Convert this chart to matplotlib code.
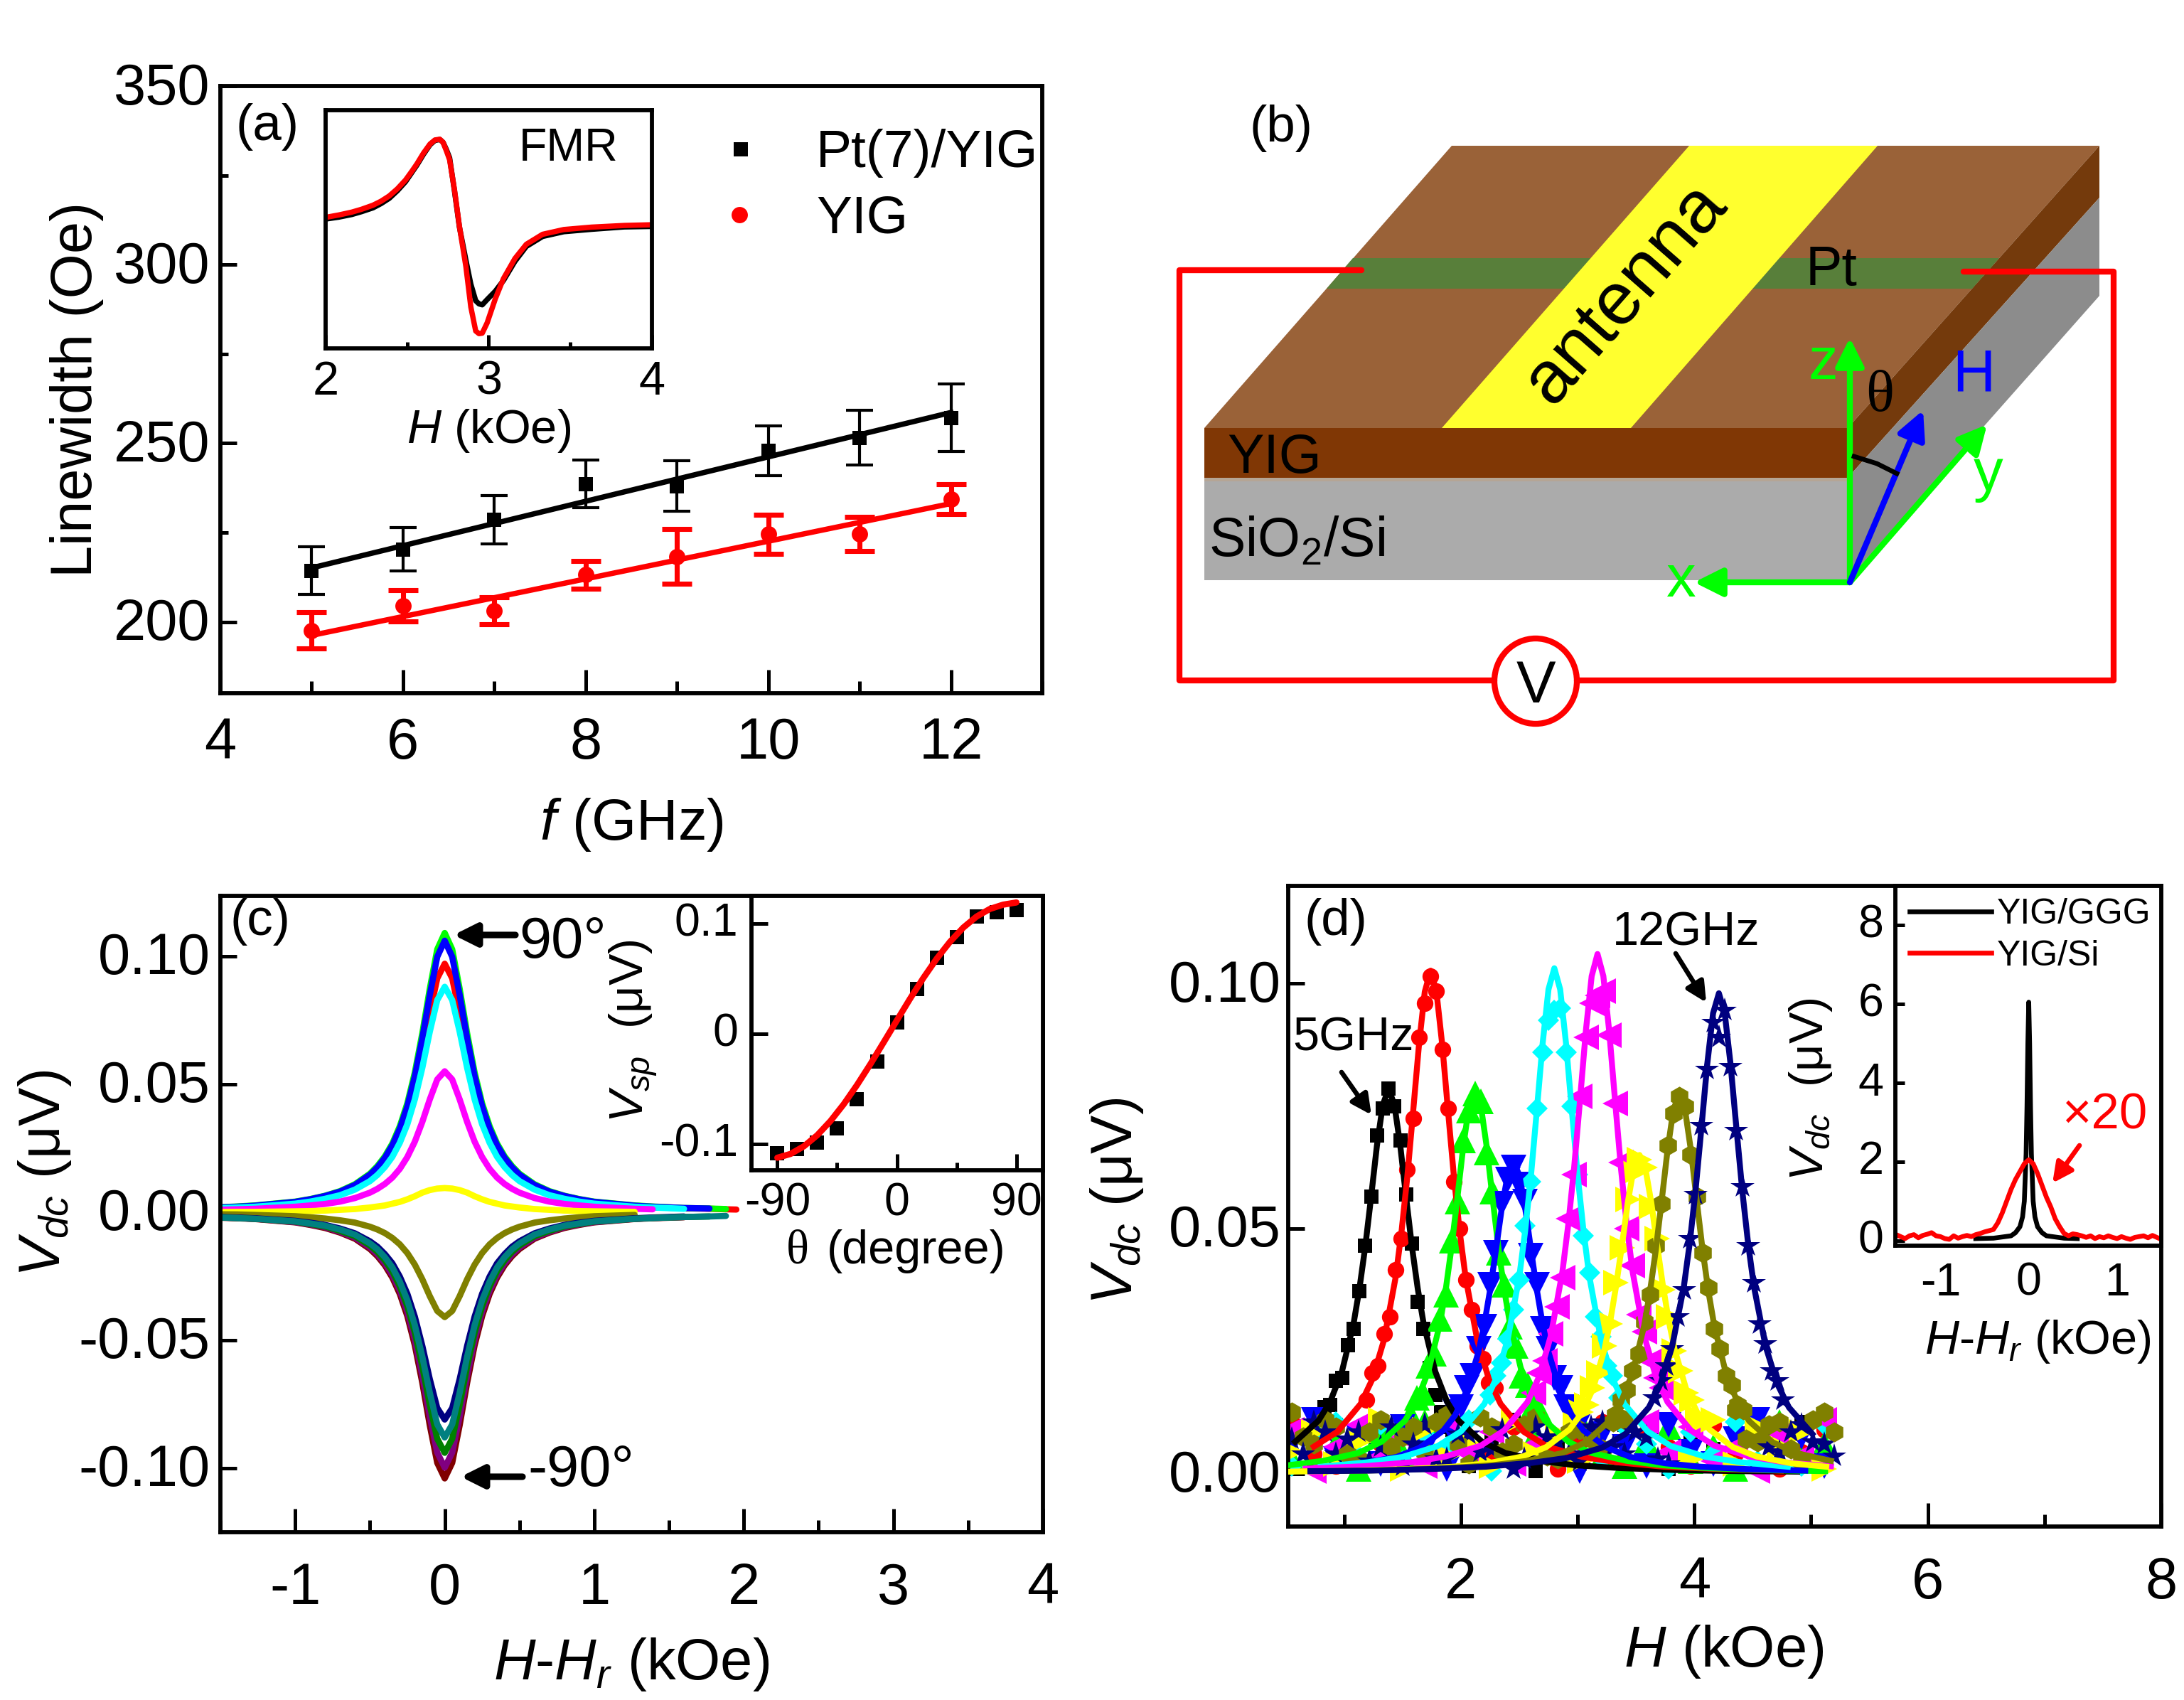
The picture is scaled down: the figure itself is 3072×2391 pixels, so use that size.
import numpy as np
import matplotlib
matplotlib.use("Agg")
import matplotlib.pyplot as plt
from matplotlib.patches import Polygon, Rectangle, Ellipse, FancyArrowPatch
from matplotlib.ticker import MultipleLocator, FormatStrFormatter, FuncFormatter
from matplotlib.transforms import ScaledTranslation

plt.rcParams['font.family'] = ['Liberation Sans', 'DejaVu Sans']
plt.rcParams['mathtext.fontset'] = 'custom'
plt.rcParams['mathtext.rm'] = 'Liberation Sans'
plt.rcParams['mathtext.it'] = 'Liberation Sans:italic'
plt.rcParams['mathtext.default'] = 'regular'
plt.rcParams['axes.unicode_minus'] = False

W, H = 3072, 2391

# panel a
a_freq = [5, 6, 7, 8, 9, 10, 11, 12]
a_pt = [214.3, 220.3, 228.6, 238.6, 238.0, 247.9, 251.5, 257.1]
a_pt_err = [6.7, 6.1, 6.75, 6.7, 7.0, 6.9, 7.7, 9.5]
a_yig = [197.6, 204.5, 203.1, 213.2, 218.3, 224.5, 224.6, 234.3]
a_yig_err = [5.1, 4.3, 3.7, 3.9, 7.7, 5.4, 4.7, 4.2]
a_fit_f = [5, 12]
a_fit_pt = [215.1, 258.6]
a_fit_yig = [196.2, 233.1]

# panel a inset (FMR)
fmr_h = [2.00, 2.08, 2.16, 2.22, 2.29, 2.34, 2.39, 2.44, 2.49, 2.53, 2.56, 2.60, 2.64, 2.67, 2.70, 2.72, 2.74, 2.76, 2.79, 2.82, 2.86,
         2.89, 2.92, 2.94, 2.96, 2.99, 3.04, 3.09, 3.16, 3.23, 3.33, 3.46, 3.63, 3.83, 4.00]
fmr_pt = [.543, .551, .562, .574, .590, .608, .630, .662, .700, .740, .770, .815, .855, .873, .877, .865, .835, .800, .660, .510, .370,
          .270, .200, .187, .183, .205, .240, .285, .365, .428, .470, .490, .500, .510, .512]
fmr_yig = [.550, .560, .572, .584, .601, .618, .640, .670, .707, .745, .775, .820, .858, .875, .878, .865, .830, .792, .665, .513, .343,
           .174, .073, .062, .064, .107, .208, .293, .377, .437, .479, .499, .509, .516, .519]

# panel c, half curves against |H-Hr|
c_off = [0, .05, .1, .15, .2, .25, .3, .35, .4, .45, .5, .6, .7, .8, .9, 1.0, 1.27, 1.39, 1.6, 1.77, 1.88, 1.95]
c_red = [.097, .0913, .0776, .0621, .0485, .0378, .0299, .0239, .0194, .0160, .0134, .0097, .0073, .0057, .0046, .0037, .0023, .0019, .0015, .0013, .0011, .0010]
c_green = [.109, .1026, .0872, .0698, .0545, .0425, .0336, .0268, .0218, .0180, .0150, .0109, .0082, .0064, .0051, .0041, .0026, .0022, .0016, .0014, .0012, .0011]
c_blue = [.106, .0997, .0848, .0678, .0530, .0413, .0326, .0261, .0212, .0175, .0146, .0106, .0080, .0063, .0050, .0040, .0025, .0021, .0016, .0014, .0012, .0011]
c_cyan = [.088, .0828, .0704, .0563, .0440, .0343, .0271, .0216, .0176, .0145, .0121, .0088, .0066, .0052, .0041, .0033, .0021, .0018, .0013, .0011, .0010, .0009]
c_magenta = [.055, .0518, .0440, .0352, .0275, .0215, .0169, .0135, .0110, .0091, .0076, .0055, .0041, .0032, .0026, .0021, .0013, .0011, .0008, .0007, .0006, .0005]
c_yellow = [.0094, .0092, .0086, .0076, .0062, .0050, .0040, .0033, .0026, .0022, .0018, .0012, .0009, .0006, .0004, .0003, .0001, .0001, 0, 0, 0, 0]
c_olive = [-.041, -.0386, -.0328, -.0262, -.0205, -.0160, -.0126, -.0101, -.0082, -.0068, -.0057, -.0041, -.0032, -.0025, -.0020, -.0016, -.0011, -.0009, -.0008, -.0007, -.0006, -.0006]
c_navy = [-.081, -.0765, -.0652, -.0522, -.0408, -.0319, -.0252, -.0200, -.0164, -.0135, -.0114, -.0083, -.0064, -.0050, -.0041, -.0034, -.0024, -.0021, -.0017, -.0015, -.0013, -.0012]
c_maroon = [-.104, -.0979, -.0832, -.0666, -.0520, -.0406, -.0320, -.0256, -.0208, -.0172, -.0144, -.0104, -.0080, -.0062, -.0050, -.0040, -.0027, -.0024, -.0020, -.0017, -.0015, -.0014]
c_purple = [-.0998, -.0939, -.0798, -.0639, -.0499, -.0389, -.0307, -.0246, -.0200, -.0165, -.0138, -.0100, -.0077, -.0059, -.0048, -.0039, -.0026, -.0023, -.0019, -.0017, -.0015, -.0014]
c_dgreen = [-.094, -.0885, -.0752, -.0602, -.0470, -.0367, -.0290, -.0231, -.0188, -.0155, -.0130, -.0094, -.0073, -.0056, -.0046, -.0037, -.0026, -.0023, -.0019, -.0017, -.0015, -.0014]
c_teal = [-.088, -.0829, -.0705, -.0564, -.0441, -.0344, -.0272, -.0216, -.0176, -.0145, -.0122, -.0088, -.0068, -.0053, -.0044, -.0036, -.0026, -.0023, -.0019, -.0017, -.0015, -.0014]

# panel c inset
cin_theta = [-90, -75, -60, -45, -30, -15, 0, 15, 30, 45, 60, 75, 90]
cin_v = [-.1085, -.1045, -.0990, -.0860, -.0592, -.0256, .0099, .0402, .0690, .0875, .1060, .1100, .1120]
cin_fit_theta = [-90, -80, -70, -60, -50, -40, -30, -20, -10, 0, 10, 20, 30, 40, 50, 60, 70, 80, 90]
cin_fit_v = [-.1126, -.1091, -.1022, -.0922, -.0793, -.0640, -.0466, -.0278, -.0080, .0120, .0318,
             .0506, .0680, .0833, .0962, .1062, .1131, .1170, .1190]

# panel d, fits: half curves against |H-Hr| for each frequency
d_off = [0, .05, .1, .15, .2, .25, .3, .4, .5, .6, .8, 1.0, 1.3, 1.6, 2, 2.5, 3, 3.5, 4]
d_center = [1.38, 1.74, 2.12, 2.45, 2.80, 3.17, 3.53, 3.87, 4.21]
d_fit_black = [.0785, .0752, .0669, .0564, .0463, .0377, .0306, .0208, .0147, .0108, .0065, .0042, .0026, .0017, .0011, .0007, .0005, .0004, .0003]
d_fit_red = [.1026, .0983, .0874, .0738, .0605, .0492, .0400, .0272, .0192, .0142, .0085, .0055, .0034, .0023, .0014, .0009, .0006, .0005, .0004]
d_fit_green = [.0784, .0751, .0668, .0564, .0463, .0376, .0306, .0208, .0147, .0108, .0065, .0042, .0026, .0017, .0011, .0007, .0005, .0004, .0003]
d_fit_blue = [.0636, .0609, .0542, .0457, .0375, .0305, .0248, .0169, .0119, .0088, .0053, .0034, .0021, .0014, .0009, .0006, .0004, .0003, .0002]
d_fit_cyan = [.1031, .0988, .0878, .0741, .0608, .0495, .0402, .0273, .0193, .0142, .0086, .0056, .0034, .0023, .0014, .0009, .0006, .0005, .0004]
d_fit_magenta = [.1060, .1015, .0903, .0762, .0625, .0509, .0413, .0281, .0198, .0146, .0088, .0057, .0035, .0023, .0015, .0010, .0006, .0005, .0004]
d_fit_yellow = [.0650, .0623, .0554, .0467, .0384, .0312, .0254, .0172, .0122, .0090, .0054, .0035, .0021, .0014, .0009, .0006, .0004, .0003, .0002]
d_fit_olive = [.0775, .0742, .0660, .0557, .0457, .0372, .0302, .0205, .0145, .0107, .0064, .0042, .0026, .0017, .0011, .0007, .0005, .0004, .0003]
d_fit_navy = [.0980, .0939, .0835, .0705, .0578, .0470, .0382, .0260, .0183, .0135, .0081, .0053, .0032, .0022, .0014, .0009, .0006, .0005, .0004]

# panel d, points near each peak (H-Hr from -0.55 to 0.55 in 0.05 steps)
d_pk_off = [-.55, -.5, -.45, -.4, -.35, -.3, -.25, -.2, -.15, -.1, -.05, 0, .05, .1, .15, .2, .25, .3, .35, .4, .45, .5, .55]
d_pk_black = [.0135, .0140, .0190, .0195, .0262, .0295, .0372, .0465, .0565, .0690, .0745, .0785, .0750, .0680, .0570, .0470, .0350, .0295, .0215, .0160, .0125, .0120, .0090]
d_pk_red = [.0150, .0205, .0220, .0285, .0320, .0415, .0480, .0620, .0725, .0890, .0960, .1015, .0985, .0865, .0745, .0595, .0500, .0395, .0335, .0260, .0235, .0185, .0175]
d_pk_green = [.0120, .0155, .0165, .0220, .0245, .0315, .0365, .0475, .0555, .0680, .0740, .0775, .0760, .0655, .0575, .0450, .0385, .0300, .0260, .0200, .0180, .0140, .0130]
d_pk_blue = [.0095, .0125, .0135, .0175, .0200, .0255, .0300, .0385, .0450, .0550, .0600, .0625, .0590, .0555, .0445, .0385, .0295, .0255, .0195, .0175, .0135, .0125, .0095]
d_pk_cyan = [.0160, .0200, .0225, .0275, .0335, .0395, .0505, .0595, .0745, .0860, .0925, .0945, .0950, .0860, .0750, .0610, .0485, .0410, .0320, .0280, .0220, .0200, .0155]
d_pk_magenta = [.0165, .0205, .0230, .0285, .0340, .0400, .0520, .0610, .0770, .0890, .0960, .0975, .0985, .0895, .0755, .0635, .0500, .0425, .0325, .0290, .0230, .0195, .0175]
d_pk_yellow = [.0100, .0125, .0140, .0175, .0205, .0260, .0305, .0390, .0460, .0560, .0615, .0640, .0625, .0545, .0480, .0375, .0320, .0250, .0210, .0165, .0150, .0115, .0110]
d_pk_olive = [.0120, .0150, .0170, .0210, .0245, .0310, .0365, .0465, .0550, .0670, .0735, .0770, .0750, .0650, .0565, .0450, .0380, .0295, .0255, .0200, .0180, .0140, .0130]
d_pk_navy = [.0155, .0190, .0220, .0255, .0320, .0375, .0480, .0570, .0710, .0825, .0920, .0890, .0945, .0830, .0700, .0585, .0465, .0390, .0305, .0265, .0210, .0190, .0150]

# panel d, background scatter
d_bg_h = [.55, .74, .93, 1.12, 1.31, 1.5, 1.69, 1.88, 2.07, 2.26, 2.45, 2.64, 2.83, 3.02, 3.21, 3.4, 3.59, 3.78, 3.97, 4.16, 4.35, 4.54, 4.73, 4.92, 5.11]
d_bg_black = [.0080, .0020, .0100, .0045, .0010, .0065, .0030, .0095, .0015, .0070, .0110, .0005, .0055, .0085, .0025, .0100, .0040, .0010, .0075, .0050, .0090, .0020, .0060, .0105, .0035]
d_bg_red = [.0105, .0040, .0015, .0090, .0060, .0110, .0025, .0005, .0075, .0035, .0095, .0050, .0010, .0065, .0105, .0030, .0085, .0055, .0015, .0100, .0040, .0070, .0010, .0045, .0090]
d_bg_green = [.0030, .0095, .0060, .0010, .0085, .0040, .0105, .0070, .0020, .0100, .0005, .0080, .0045, .0110, .0035, .0015, .0065, .0095, .0025, .0055, .0010, .0085, .0105, .0030, .0060]
d_bg_blue = [.0060, .0110, .0030, .0075, .0020, .0095, .0050, .0010, .0090, .0025, .0065, .0105, .0035, .0005, .0080, .0055, .0015, .0100, .0045, .0020, .0070, .0110, .0040, .0075, .0015]
d_bg_cyan = [.0015, .0070, .0105, .0035, .0100, .0025, .0080, .0055, .0110, .0005, .0045, .0090, .0020, .0075, .0030, .0095, .0060, .0010, .0085, .0040, .0105, .0025, .0065, .0015, .0100]
d_bg_magenta = [.0090, .0005, .0055, .0100, .0035, .0075, .0015, .0110, .0040, .0085, .0020, .0060, .0100, .0030, .0070, .0010, .0105, .0045, .0095, .0025, .0055, .0005, .0080, .0035, .0110]
d_bg_yellow = [.0045, .0085, .0020, .0065, .0110, .0010, .0090, .0035, .0060, .0015, .0105, .0040, .0080, .0025, .0100, .0050, .0005, .0075, .0030, .0110, .0020, .0095, .0055, .0085, .0010]
d_bg_olive = [.0125, .0060, .0095, .0030, .0110, .0075, .0045, .0120, .0020, .0095, .0060, .0115, .0030, .0090, .0050, .0110, .0015, .0070, .0115, .0040, .0130, .0065, .0105, .0025, .0125]
d_bg_navy = [.0070, .0105, .0040, .0085, .0055, .0015, .0100, .0030, .0080, .0050, .0010, .0095, .0065, .0025, .0105, .0040, .0075, .0020, .0060, .0090, .0035, .0075, .0045, .0100, .0060]
d_bg2_h = [.645, .835, 1.025, 1.215, 1.405, 1.595, 1.785, 1.975, 2.165, 2.355, 2.545, 2.735, 2.925, 3.115, 3.305, 3.495, 3.685, 3.875, 4.065, 4.255, 4.445, 4.635, 4.825, 5.015, 5.2]
d_bg2_olive = [.0075, .0110, .0040, .0085, .0055, .0095, .0105, .0060, .0115, .0045, .0100, .0035, .0085, .0070, .0105, .0050, .0090, .0040, .0075, .0105, .0070, .0100, .0050, .0110, .0085]
d_bg2_navy = [.0040, .0085, .0070, .0025, .0095, .0060, .0030, .0080, .0045, .0090, .0030, .0075, .0040, .0095, .0055, .0085, .0030, .0100, .0050, .0070, .0100, .0055, .0085, .0065, .0035]

# panel d inset
din_ggg_h = [-.6, -.4, -.2, -.15, -.1, -.07, -.05, -.03, -.02, -.01, 0, .01, .02, .03, .05, .07, .1, .15, .2, .4, .55]
din_ggg_v = [.05, .06, .12, .2, .35, .6, 1.0, 2.2, 3.4, 5.0, 6.05, 5.0, 3.4, 2.2, 1.0, .6, .35, .2, .12, .06, .05]
din_si_h = [-1.5, -1.45, -1.4, -1.35, -1.3, -1.25, -1.2, -1.15, -1.1, -1.05, -1, -.95, -.9, -.85, -.8, -.75, -.7, -.65, -.6, -.55, -.5,
            -.45, -.4, -.35, -.3, -.25, -.2, -.15, -.1, -.05, 0, .05, .1, .15, .2, .25, .3, .35, .4, .45, .5,
            .55, .6, .65, .7, .75, .8, .85, .9, .95, 1, 1.05, 1.1, 1.15, 1.2, 1.25, 1.3, 1.35, 1.4, 1.45, 1.5]
din_si_v = [.15, .1, .05, .12, .15, .07, .13, .16, .2, .12, .1, .05, .03, .12, .06, .1, .13, .1, .15, .18, .22,
            .25, .28, .45, .7, 1.0, 1.3, 1.55, 1.75, 1.95, 2.05, 1.95, 1.7, 1.4, 1.1, .85, .55, .35, .18, .12, .17,
            .15, .12, .08, .12, .05, .1, .07, .12, .08, .05, .1, .06, .03, .08, .1, .12, .07, .13, .08, .03]


def px_axes(l, t, r, b):
    return fig.add_axes([l / W, 1 - b / H, (r - l) / W, (b - t) / H])


def style(ax, xmaj, ymaj, xmin=None, ymin=None, xlen=8, ylen=5.5, fs=19.5, xpad=8, ypad=3.5):
    for s in ax.spines.values():
        s.set_linewidth(1.4)
    ax.xaxis.set_major_locator(MultipleLocator(xmaj))
    ax.yaxis.set_major_locator(MultipleLocator(ymaj))
    if xmin:
        ax.xaxis.set_minor_locator(MultipleLocator(xmin))
    if ymin:
        ax.yaxis.set_minor_locator(MultipleLocator(ymin))
    ax.tick_params(axis='x', which='major', direction='in', length=xlen, width=1.2, labelsize=fs, pad=xpad)
    ax.tick_params(axis='y', which='major', direction='in', length=ylen, width=1.2, labelsize=fs, pad=ypad)
    ax.tick_params(axis='x', which='minor', direction='in', length=xlen / 2, width=1.2)
    ax.tick_params(axis='y', which='minor', direction='in', length=ylen / 2, width=1.2)


def nudge_ylabels(ax, px=4):
    # y tick labels sit a few pixels higher in the original
    for lab in ax.get_yticklabels():
        lab.set_transform(lab.get_transform() + ScaledTranslation(0, px / 300, fig.dpi_scale_trans))


fig = plt.figure(figsize=(W / 300, H / 300), dpi=300)

# ---- (a)
ax_a = px_axes(310, 121, 1466, 975)
ax_a.set_xlim(4, 13)
ax_a.set_ylim(180, 350)
style(ax_a, 2, 50, 1, 25)
ax_a.errorbar(a_freq, a_pt, yerr=a_pt_err, fmt='none', ecolor='k', elinewidth=1, capsize=4.6, capthick=1)
ax_a.errorbar(a_freq, a_yig, yerr=a_yig_err, fmt='none', ecolor='#ff0000', elinewidth=1.7, capsize=5, capthick=1.7)
ax_a.plot(a_fit_f, a_fit_pt, color='k', lw=1.8)
ax_a.plot(a_fit_f, a_fit_yig, color='#ff0000', lw=1.8)
ax_a.plot(a_freq, a_pt, 's', color='k', ms=5, mew=0)
ax_a.plot(a_freq, a_yig, 'o', color='#ff0000', ms=5.5, mew=0)
nudge_ylabels(ax_a)

ax_ai = px_axes(458, 155, 917, 490)
ax_ai.set_xlim(2, 4)
ax_ai.set_ylim(0, 1)
style(ax_ai, 1, 1, .5, None, xlen=4.5, fs=16, xpad=4)
ax_ai.set_yticks([])
ax_ai.plot(fmr_h, fmr_pt, color='k', lw=1.8)
ax_ai.plot(fmr_h, fmr_yig, color='#ff0000', lw=1.8)

# ---- (c)
ax_c = px_axes(310, 1260, 1467, 2155)
ax_c.set_xlim(-1.5, 4)
ax_c.set_ylim(-.125, .1235)
style(ax_c, 1, .05, .5, None, xpad=10)
ax_c.yaxis.set_major_formatter(FormatStrFormatter('%.2f'))
nudge_ylabels(ax_c)
c_off_arr = np.array(c_off)
c_curves = [(c_red, '#ff0000', 1.95), (c_green, '#00ff00', 1.88), (c_blue, '#0000ff', 1.77),
            (c_cyan, '#00ffff', 1.6), (c_magenta, '#ff00ff', 1.39), (c_yellow, '#ffff00', 1.27),
            (c_olive, '#808000', 1.27), (c_navy, '#000080', 1.6), (c_maroon, '#800000', 1.6),
            (c_purple, '#800080', 1.6), (c_dgreen, '#008000', 1.77), (c_teal, '#008080', 1.88)]
for vals, col, end in c_curves:
    vals = np.array(vals)
    keep = c_off_arr <= end
    xs = np.concatenate([-c_off_arr[::-1], c_off_arr[keep][1:]])
    ys = np.concatenate([vals[::-1], vals[keep][1:]])
    ax_c.plot(xs, ys, color=col, lw=2.1, solid_capstyle='round', solid_joinstyle='round')

ax_ci = px_axes(1057, 1260, 1467, 1646)
ax_ci.set_xlim(-109.5, 110)
ax_ci.set_ylim(-.124, .125)
style(ax_ci, 90, .1, 45, None, xlen=5.5, ylen=5.5, fs=15.5, xpad=4, ypad=4.5)
ax_ci.yaxis.set_major_formatter(FuncFormatter(lambda v, p: '0' if abs(v) < 1e-9 else '%.1f' % v))
nudge_ylabels(ax_ci, 6)
ax_ci.plot(cin_theta, cin_v, 's', color='k', ms=5, mew=0)
ax_ci.plot(cin_fit_theta, cin_fit_v, color='#ff0000', lw=2.1, solid_capstyle='round')

# ---- (d)
ax_d = px_axes(1812, 1246, 3040, 2147)
ax_d.set_xlim(.52, 8)
ax_d.set_ylim(-.0108, .1199)
style(ax_d, 2, .05, 1, None, xpad=10, ypad=2.5)
ax_d.yaxis.set_major_formatter(FormatStrFormatter('%.2f'))
nudge_ylabels(ax_d)
d_series = [('#000000', 's', 4.8, d_fit_black, d_pk_black, d_bg_black),
            ('#ff0000', 'o', 5.6, d_fit_red, d_pk_red, d_bg_red),
            ('#00ff00', '^', 8.8, d_fit_green, d_pk_green, d_bg_green),
            ('#0000ff', 'v', 8.8, d_fit_blue, d_pk_blue, d_bg_blue),
            ('#00ffff', 'D', 5, d_fit_cyan, d_pk_cyan, d_bg_cyan),
            ('#ff00ff', '<', 8.6, d_fit_magenta, d_pk_magenta, d_bg_magenta),
            ('#ffff00', '>', 8.6, d_fit_yellow, d_pk_yellow, d_bg_yellow),
            ('#808000', 'h', 6.8, d_fit_olive, d_pk_olive, d_bg_olive),
            ('#000080', '*', 8.5, d_fit_navy, d_pk_navy, d_bg_navy)]
d_off_arr = np.array(d_off)
d_bg_arr = np.array(d_bg_h)
d_bg2_arr = np.array(d_bg2_h)
for (col, mark, ms, fit, pk, bg), cen in zip(d_series, d_center):
    bg = np.array(bg)
    far = np.abs(d_bg_arr - cen) > .4
    ax_d.plot(d_bg_arr[far], bg[far], ls='none', marker=mark, ms=ms, color=col, mew=0, zorder=2)
    ax_d.plot(np.array(d_pk_off) + cen, pk, ls='none', marker=mark, ms=ms, color=col, mew=0, zorder=2)
# second pass of olive and navy points, they cover most of the band
far = np.abs(d_bg2_arr - d_center[7]) > .4
ax_d.plot(d_bg2_arr[far], np.array(d_bg2_olive)[far], ls='none', marker='h', ms=6.8, color='#808000', mew=0, zorder=2)
far = np.abs(d_bg2_arr - d_center[8]) > .4
ax_d.plot(d_bg2_arr[far], np.array(d_bg2_navy)[far], ls='none', marker='*', ms=8.5, color='#000080', mew=0, zorder=2)
for (col, mark, ms, fit, pk, bg), cen in zip(d_series, d_center):
    fit = np.array(fit)
    xs = np.concatenate([cen - d_off_arr[::-1], cen + d_off_arr[1:]])
    ys = np.concatenate([fit[::-1], fit[1:]])
    keep = (xs >= .52) & (xs <= 5.2)
    ax_d.plot(xs[keep], ys[keep], color=col, lw=2, zorder=3)

ax_di = px_axes(2666, 1246, 3040, 1752)
ax_di.set_xlim(-1.51, 1.5)
ax_di.set_ylim(-.13, 9)
style(ax_di, 1, 2, None, None, xlen=0, ylen=3.2, fs=15.5, xpad=5.5, ypad=4)
nudge_ylabels(ax_di, 6)
ax_di.plot(din_ggg_h, din_ggg_v, color='k', lw=1.6, label='YIG/GGG')
ax_di.plot(din_si_h, din_si_v, color='#ff0000', lw=1.6, label='YIG/Si')
ax_di.legend(loc='upper left', bbox_to_anchor=(0, 1.005), frameon=False, fontsize=12, handlelength=2.3,
             handletextpad=.15, labelspacing=.25, borderaxespad=.2, borderpad=.2)

# ---- overlay in figure pixels: schematic (b) and all free text
ov = fig.add_axes([0, 0, 1, 1], zorder=10)
ov.set_xlim(0, W)
ov.set_ylim(H, 0)
ov.axis('off')
ov.patch.set_alpha(0)

# slab
ov.add_patch(Polygon([(1694, 602), (2042, 205), (2953, 205), (2599, 602)], fc='#9a6238', ec='none'))
ov.add_patch(Polygon([(2599, 602), (2953, 205), (2953, 278), (2599, 672)], fc='#743a0c', ec='none'))
ov.add_patch(Polygon([(2599, 672), (2953, 278), (2953, 416), (2599, 816)], fc='#8c8c8c', ec='none'))
ov.add_patch(Rectangle((1694, 602), 905, 70, fc='#803705', ec='none'))
ov.add_patch(Rectangle((1694, 672), 905, 144, fc='#ababab', ec='none'))
ov.add_patch(Rectangle((1694, 672), 905, 5, fc='#b5a595', ec='none'))
ov.add_patch(Polygon([(1903, 363), (2812, 363), (2774, 406), (1866, 406)], fc='#587f3a', ec='none'))
ov.add_patch(Polygon([(2028, 602), (2376, 205), (2641, 205), (2294, 602)], fc='#ffff2e', ec='none'))

# circuit
red = '#ff0000'
ov.plot([1915, 1659, 1659, 2102], [380, 380, 957, 957], color=red, lw=2, solid_capstyle='round')
ov.plot([2762, 2973, 2973, 2218], [382, 382, 957, 957], color=red, lw=2, solid_capstyle='round')
ov.add_patch(Ellipse((2160, 958), 116, 120, fc='white', ec=red, lw=2))


def arrow(p0, p1, col, lw=2, ms=20):
    ov.add_patch(FancyArrowPatch(p0, p1, arrowstyle='-|>', mutation_scale=ms, color=col, lw=lw,
                                 shrinkA=0, shrinkB=0))


green = '#00ff00'
arrow((2602, 819), (2602, 475), green)
arrow((2602, 819), (2383, 819), green)
arrow((2602, 819), (2795, 597), green)
arrow((2602, 819), (2705, 577), '#0000ff')
ov.plot([2608, 2640, 2668], [642, 652, 666], color='k', lw=1.6)


def txt(x, y, s, fs=19.5, col='k', rot=0, ha='center', family=None):
    kw = {'family': family} if family else {}
    ov.text(x, y, s, fontsize=fs, color=col, rotation=rot, ha=ha, va='center', rotation_mode='anchor', **kw)


txt(1802, 180, '(b)', 17.5)
txt(1793, 644, 'YIG', 18.5)
txt(1700, 762, 'SiO$_2$/Si', 18.5, ha='left')
txt(2576, 380, 'Pt', 18.5)
txt(2287, 413, 'antenna', 25, rot=48.8)
txt(2160, 966, 'V', 20)
txt(2564, 511, 'z', 20, green)
txt(2644, 558, 'θ', 20, family='Liberation Serif')
txt(2776, 528, 'H', 20, '#0000ff')
txt(2797, 668, 'y', 20, green)
txt(2364, 817, 'x', 20, green)

# panel a text
txt(376, 178, '(a)', 17.5)
txt(108, 548, 'Linewidth (Oe)', 19.5, rot=90)
txt(888, 1160, '$\\mathit{f}$ (GHz)', 19.5)
txt(800, 209, 'FMR', 15.5)
txt(688, 606, '$\\mathit{H}$ (kOe)', 16)
ov.plot([1042], [210], 's', color='k', ms=5, mew=0)
ov.plot([1040], [302], 'o', color=red, ms=5.5, mew=0)
txt(1148, 216, 'Pt(7)/YIG', 18, ha='left')
txt(1148, 308, 'YIG', 18, ha='left')

# panel c text
txt(366, 1297, '(c)', 17.5)
txt(63, 1650, '$\\mathit{V}_{\\mathit{dc}}$ (μV)', 19.5, rot=90)
txt(888, 2341, '$\\mathit{H}$-$\\mathit{H}_{\\mathit{r}}$ (kOe)', 19.5)
txt(730, 1326, '90°', 19.5, ha='left')
txt(742, 2069, '-90°', 19.5, ha='left')
arrow((725, 1315), (638, 1315), 'k', lw=2.2, ms=16)
arrow((735, 2077), (648, 2077), 'k', lw=2.2, ms=16)
txt(891, 1450, '$\\mathit{V}_{\\mathit{sp}}$  (μV)', 16, rot=90)
txt(1122, 1760, 'θ', 16, family='Liberation Serif')
txt(1163, 1760, '(degree)', 16, ha='left')

# panel d text
txt(1879, 1297, '(d)', 17.5)
txt(1571, 1689, '$\\mathit{V}_{\\mathit{dc}}$ (μV)', 19.5, rot=90)
txt(2425, 2323, '$\\mathit{H}$ (kOe)', 19.5)
txt(1904, 1461, '5GHz', 16)
txt(2372, 1313, '12GHz', 16)
arrow((1887, 1508), (1929, 1568), 'k', lw=1.6, ms=14)
arrow((2357, 1341), (2400, 1410), 'k', lw=1.6, ms=14)
txt(2547, 1532, '$\\mathit{V}_{\\mathit{dc}}$  (μV)', 16, rot=90)
txt(2866, 1887, '$\\mathit{H}$-$\\mathit{H}_{\\mathit{r}}$ (kOe)', 16)
txt(2960, 1569, '×20', 17, red)
arrow((2925, 1611), (2887, 1664), red, lw=1.6, ms=14)

fig.savefig('out.png', dpi=300)
